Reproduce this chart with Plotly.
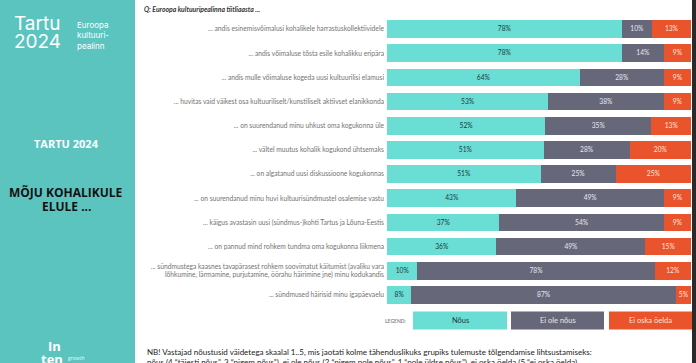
import plotly.graph_objects as go

categories = [
    "... andis esinemisvõimalusi kohalikele harrastuskollektiividele",
    "... andis võimaluse tõsta esile kohalikku eripära",
    "... andis mulle võimaluse kogeda uusi kultuurilisi elamusi",
    "... huvitas vaid väikest osa kultuuriliselt/kunstiliselt aktiivset elanikkonda",
    "... on suurendanud minu uhkust oma kogukonna üle",
    "... vältel muutus kohalik kogukond ühtsemaks",
    "... on algatanud uusi diskussioone kogukonnas",
    "... on suurendanud minu huvi kultuurisündmustel osalemise vastu",
    "... käigus avastasin uusi (sündmus-)kohti Tartus ja Lõuna-Eestis",
    "... on pannud mind rohkem tundma oma kogukonna liikmena",
    "... sündmustega kaasnes tavapärasest rohkem soovimatut käitumist (avaliku vara<br>lõhkumine, lärmamine, purjutamine, öörahu häirimine jne) minu kodukandis",
    "... sündmused häirisid minu igapäevaelu",
]
nous = [78, 78, 64, 53, 52, 51, 51, 43, 37, 36, 10, 8]
ei_ole_nous = [10, 14, 28, 38, 35, 28, 25, 49, 54, 49, 78, 87]
ei_oska = [13, 9, 9, 9, 13, 20, 25, 9, 9, 15, 12, 5]
series_names = ["Nõus", "Ei ole nõus", "Ei oska öelda"]

TEAL = "#6ADDD5"
GRAY = "#67677A"
ORANGE = "#E9542D"
PANEL = "#5CC4BF"

W, H = 696, 363
ML, MR, MT, MB = 387, 5, 17, 56
PW, PH = W - ML - MR, H - MT - MB


def px(x):
    return (x - ML) / PW


def py(y):
    return (H - MB - y) / PH


totals = [a + b + c for a, b, c in zip(nous, ei_ole_nous, ei_oska)]
fig = go.Figure()
for name, vals, col, tcol in [
    (series_names[0], nous, TEAL, "#1f3b3a"),
    (series_names[1], ei_ole_nous, GRAY, "#e6e6ee"),
    (series_names[2], ei_oska, ORANGE, "#fde3da"),
]:
    fig.add_trace(go.Bar(
        y=categories,
        x=[v / t * 100 for v, t in zip(vals, totals)],
        orientation="h",
        name=name,
        marker=dict(color=col, line=dict(width=0)),
        text=[f"{v}%" for v in vals],
        textposition="inside",
        insidetextanchor="middle",
        textfont=dict(family="Lato", size=7.5, color=tcol),
        textangle=0,
        showlegend=False,
    ))

fig.update_layout(
    barmode="stack",
    bargap=0.27,
    width=W, height=H,
    margin=dict(l=ML, r=MR, t=MT, b=MB, pad=0),
    paper_bgcolor="white",
    plot_bgcolor="white",
    xaxis=dict(range=[0, 100], visible=False, fixedrange=True),
    yaxis=dict(type="category", autorange="reversed", showgrid=False, zeroline=False,
               ticks="", showline=False, ticklabelstandoff=2, fixedrange=True,
               tickfont=dict(family="Lato", size=6.7, color="#747474")),
    uniformtext=dict(minsize=6, mode="show"),
)

shapes = []
ann = []
# left panel
shapes.append(dict(type="rect", xref="paper", yref="paper", x0=px(0), x1=px(135), y0=py(H), y1=py(0),
                   fillcolor=PANEL, line=dict(width=0), layer="below"))
# right border
shapes.append(dict(type="rect", xref="paper", yref="paper", x0=px(692), x1=px(697), y0=py(H), y1=py(0),
                   fillcolor="#2a2a2a", line=dict(width=0)))

# legend row
leg = [(413, 507, TEAL, "Nõus", "#1f3b3a"), (511, 604, GRAY, "Ei ole nõus", "#e6e6ee"),
       (609, 692, ORANGE, "Ei oska öelda", "#fde3da")]
for x0, x1, col, lab, tc in leg:
    shapes.append(dict(type="rect", xref="paper", yref="paper", x0=px(x0), x1=px(x1), y0=py(329.5), y1=py(311.5),
                       fillcolor=col, line=dict(width=0)))
    ann.append(dict(xref="paper", yref="paper", x=px((x0 + x1) / 2), y=py(320.5), text=lab, showarrow=False,
                    font=dict(family="Lato", size=7.5, color=tc), xanchor="center", yanchor="middle"))
ann.append(dict(xref="paper", yref="paper", x=px(409), y=py(320.5), text="<b>LEGEND:</b>", showarrow=False,
                font=dict(family="Lato", size=5, color="#8a8a8a"), xanchor="right", yanchor="middle"))

# question title
ann.append(dict(xref="paper", yref="paper", x=px(142), y=py(8.5), text="<b><i>Q: Euroopa kultuuripealinna tiitliaasta ...</i></b>",
                showarrow=False, font=dict(family="Lato", size=6.8, color="#333333"), xanchor="left", yanchor="middle"))

# bottom note
ann.append(dict(xref="paper", yref="paper", x=px(145), y=py(351.5),
                text="NB! Vastajad nõustusid väidetega skaalal 1..5, mis jaotati kolme tähenduslikuks grupiks tulemuste tõlgendamise lihtsustamiseks:",
                showarrow=False, font=dict(family="Lato", size=8, color="#222222"), xanchor="left", yanchor="middle"))
ann.append(dict(xref="paper", yref="paper", x=px(145), y=py(361.5),
                text="nõus (4 “täiesti nõus”, 3 “pigem nõus”), ei ole nõus (2 “pigem pole nõus”, 1 “pole üldse nõus”), ei oska öelda (5 “ei oska öelda)",
                showarrow=False, font=dict(family="Lato", size=8, color="#222222"), xanchor="left", yanchor="middle"))

# left panel texts
ann.append(dict(xref="paper", yref="paper", x=px(12), y=py(23), text="Tartu", showarrow=False,
                font=dict(family="Inter", size=19, color="white"), xanchor="left", yanchor="middle"))
ann.append(dict(xref="paper", yref="paper", x=px(12), y=py(42), text="2024", showarrow=False,
                font=dict(family="Inter", size=19, color="white"), xanchor="left", yanchor="middle"))
for i, t in enumerate(["Euroopa", "kultuuri-", "pealinn"]):
    ann.append(dict(xref="paper", yref="paper", x=px(75), y=py(25 + i * 10.3), text=t, showarrow=False,
                    font=dict(family="Inter", size=8, color="white"), xanchor="left", yanchor="middle"))
ann.append(dict(xref="paper", yref="paper", x=px(66), y=py(143), text="<b>TARTU 2024</b>", showarrow=False,
                font=dict(family="Open Sans", size=11, color="white"), xanchor="center", yanchor="middle"))
ann.append(dict(xref="paper", yref="paper", x=px(66), y=py(192), text="<b>MÕJU KOHALIKULE</b>", showarrow=False,
                font=dict(family="Open Sans", size=12, color="#111111"), xanchor="center", yanchor="middle"))
ann.append(dict(xref="paper", yref="paper", x=px(66), y=py(206), text="<b>ELULE ...</b>", showarrow=False,
                font=dict(family="Open Sans", size=12, color="#111111"), xanchor="center", yanchor="middle"))
ann.append(dict(xref="paper", yref="paper", x=px(54), y=py(346), text="<b>In</b>", showarrow=False,
                font=dict(family="Open Sans", size=13, color="white"), xanchor="center", yanchor="middle"))
ann.append(dict(xref="paper", yref="paper", x=px(52), y=py(359), text="<b>ten</b>", showarrow=False,
                font=dict(family="Open Sans", size=13, color="white"), xanchor="center", yanchor="middle"))
ann.append(dict(xref="paper", yref="paper", x=px(66), y=py(358), text="growth", showarrow=False,
                font=dict(family="Open Sans", size=5, color="#e8f8f7"), xanchor="left", yanchor="middle"))

fig.update_layout(shapes=shapes, annotations=ann)
fig.write_html("out.html", config={"displayModeBar": False},
               post_script="document.body.style.margin='0';document.body.style.overflow='hidden';")
